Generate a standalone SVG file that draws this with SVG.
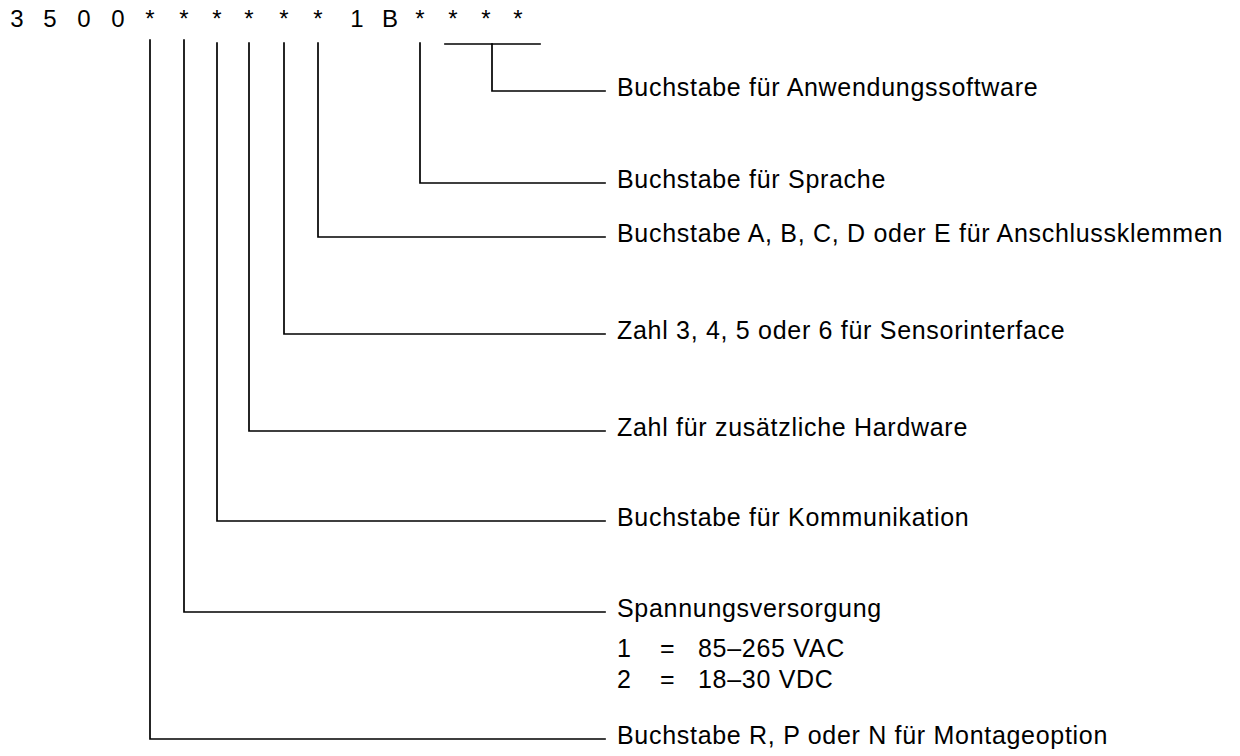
<svg xmlns="http://www.w3.org/2000/svg" width="1240" height="756" viewBox="0 0 1240 756">
<style>
.code{font-family:"Liberation Sans",Arial,sans-serif;font-size:24px;fill:#000;text-anchor:middle}
.lbl{font-family:"Liberation Sans",Arial,sans-serif;font-size:25px;letter-spacing:0.7px;fill:#000}
.ln{stroke:#000;stroke-width:1.7;fill:none;stroke-linecap:square}
</style>
<rect width="1240" height="756" fill="#fff"/>
<g id="code">
<text class="code" x="17" y="27">3</text>
<text class="code" x="50" y="27">5</text>
<text class="code" x="84" y="27">0</text>
<text class="code" x="118" y="27">0</text>
<text class="code" x="150" y="27">*</text>
<text class="code" x="184" y="27">*</text>
<text class="code" x="217" y="27">*</text>
<text class="code" x="249" y="27">*</text>
<text class="code" x="284" y="27">*</text>
<text class="code" x="318" y="27">*</text>
<text class="code" x="357" y="27">1</text>
<text class="code" x="390" y="27">B</text>
<text class="code" x="420" y="27">*</text>
<text class="code" x="453" y="27">*</text>
<text class="code" x="486" y="27">*</text>
<text class="code" x="518" y="27">*</text>
</g>
<g id="connectors">
<path class="ln" d="M445,44 H540"/>
<path class="ln" d="M492,44 V91 H605"/>
<path class="ln" d="M420,43 V183 H605"/>
<path class="ln" d="M318,43 V237 H605"/>
<path class="ln" d="M284,43 V334 H605"/>
<path class="ln" d="M249,43 V431 H605"/>
<path class="ln" d="M217,43 V521 H605"/>
<path class="ln" d="M184,40 V612 H605"/>
<path class="ln" d="M150,40 V739 H605"/>
</g>
<g id="n-software"><text class="lbl" x="617" y="96">Buchstabe für Anwendungssoftware</text></g>
<g id="n-sprache"><text class="lbl" x="617" y="188">Buchstabe für Sprache</text></g>
<g id="n-klemmen"><text class="lbl" x="617" y="242">Buchstabe A, B, C, D oder E für Anschlussklemmen</text></g>
<g id="n-sensor"><text class="lbl" x="617" y="339">Zahl 3, 4, 5 oder 6 für Sensorinterface</text></g>
<g id="n-hardware"><text class="lbl" x="617" y="436">Zahl für zusätzliche Hardware</text></g>
<g id="n-komm"><text class="lbl" x="617" y="526">Buchstabe für Kommunikation</text></g>
<g id="n-spannung">
<text class="lbl" x="617" y="617">Spannungsversorgung</text>
<text class="lbl" x="617" y="657">1</text><text class="lbl" x="660" y="657">=</text><text class="lbl" x="698" y="657">85–265 VAC</text>
<text class="lbl" x="617" y="688">2</text><text class="lbl" x="660" y="688">=</text><text class="lbl" x="698" y="688">18–30 VDC</text>
</g>
<g id="n-montage"><text class="lbl" x="617" y="744">Buchstabe R, P oder N für Montageoption</text></g>
</svg>
